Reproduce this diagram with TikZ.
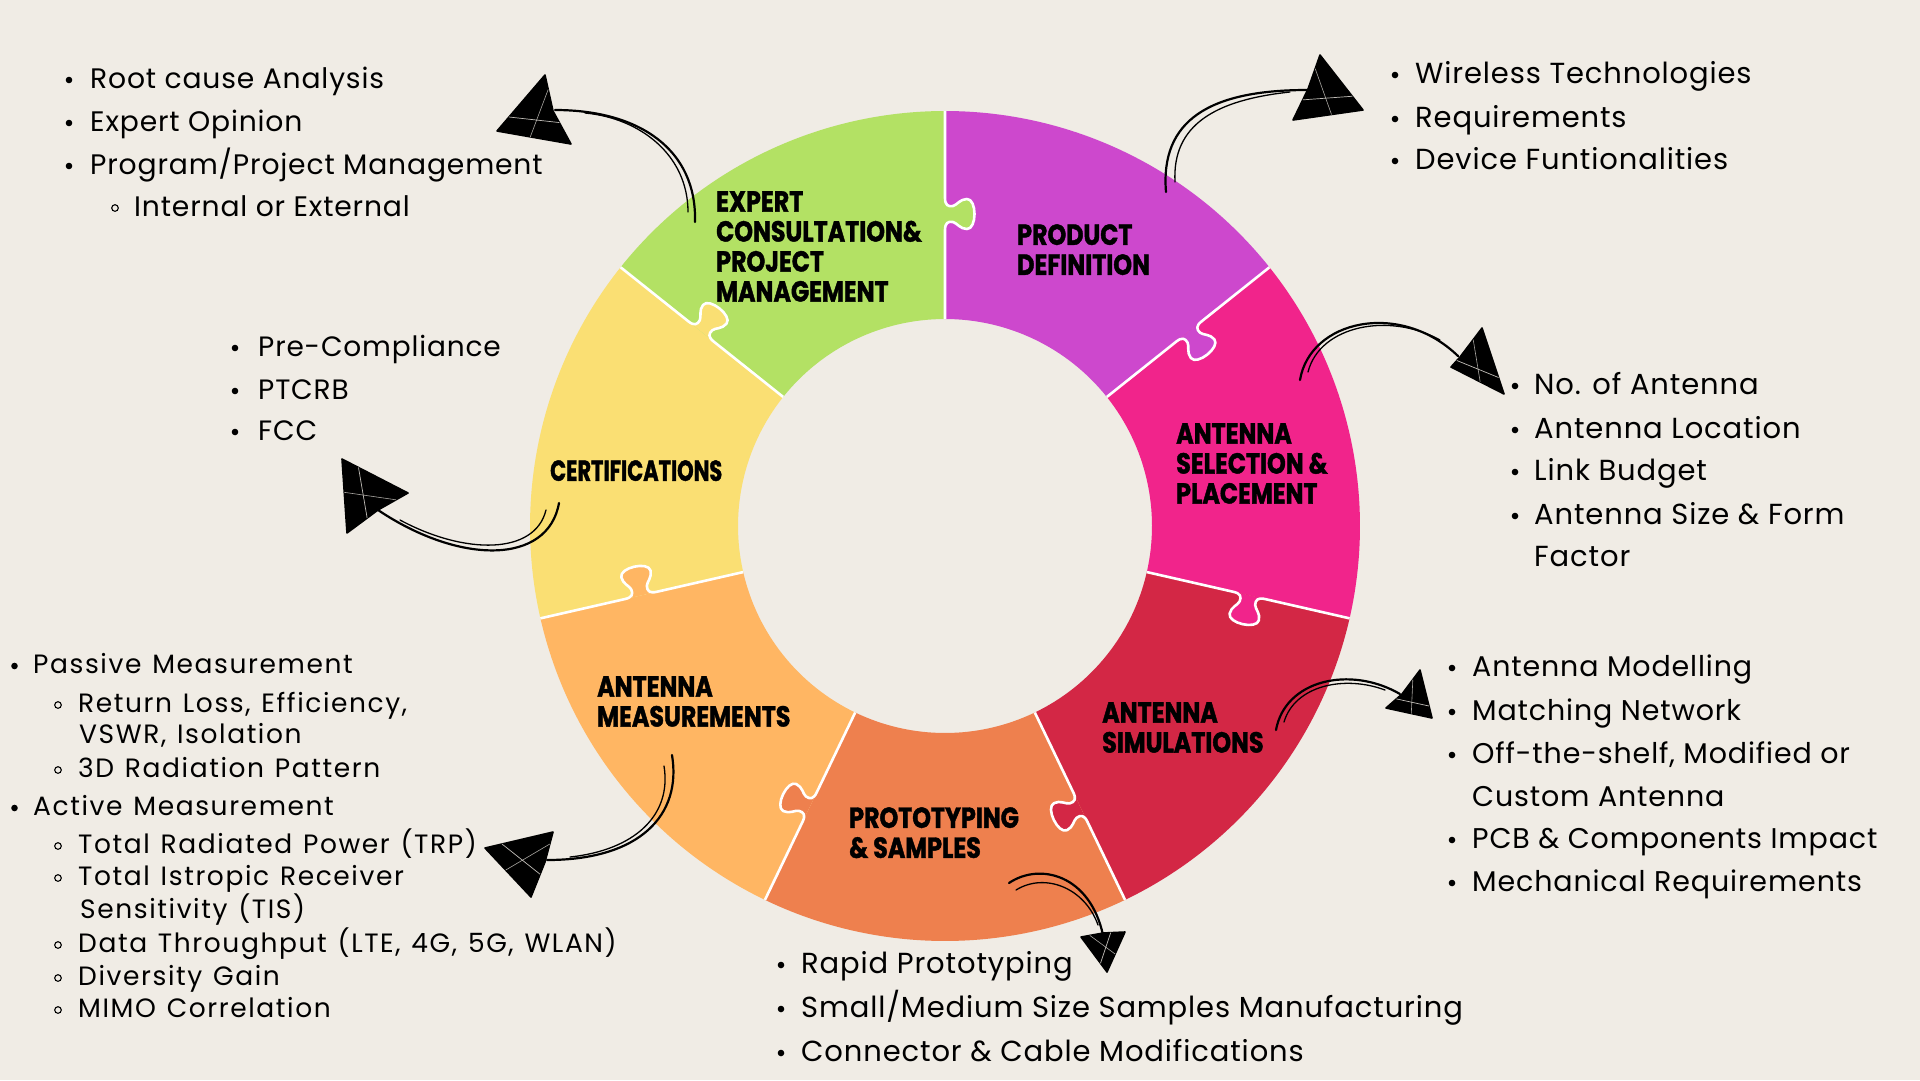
\documentclass[tikz,border=0pt]{standalone}
\usepackage{fontspec}
\usetikzlibrary{calc}
\newfontfamily\listfont{Poppins}[LetterSpace=3]
\newfontfamily\listfontw{Poppins}[LetterSpace=6, WordSpace=1.25]
\newfontfamily\labfont{Poppins}[FakeStretch=0.82, BoldFeatures={FakeBold=1.4}]
\definecolor{bgc}{HTML}{F0ECE5}
\definecolor{cPD}{HTML}{CD48CD}
\definecolor{cAS}{HTML}{F1248B}
\definecolor{cSIM}{HTML}{D32745}
\definecolor{cPRO}{HTML}{EE804E}
\definecolor{cMEA}{HTML}{FFB663}
\definecolor{cCER}{HTML}{FADF73}
\definecolor{cEXP}{HTML}{B3E164}
\tikzset{
  labtxt/.style={font=\labfont\bfseries\fontsize{29}{30}\selectfont, align=left, inner sep=0pt, text=black, anchor=north west},
  lt/.style={font=\listfont\fontsize{29}{29}\selectfont, inner sep=0pt, anchor=base west, text=black},
  ltA/.style={lt, font=\listfont\fontsize{28.2}{29}\selectfont},
  ltR/.style={lt, font=\listfont\fontsize{28.5}{29}\selectfont},
  ltC/.style={lt, font=\listfont\fontsize{28}{29}\selectfont},
  ls/.style={font=\listfontw\fontsize{26.5}{26}\selectfont, inner sep=0pt, anchor=base west, text=black},
  arrline/.style={line width=2.2pt, line cap=round, black},
  arrline2/.style={line width=1.3pt, line cap=round, black},
}
\newcommand\bul[2]{\fill[black] (#1,#2) circle (3.3);}
\newcommand\sbul[2]{\draw[black, line width=1.1pt] (#1,#2) circle (3.3);}
\newcommand\skhead[4]{%
  \fill[black] (#1) -- (#2) -- (#3) -- (#4) -- cycle;
  \draw[black, line width=1.6pt, line join=round] (#1) -- (#2) -- (#3) -- (#4) -- cycle;
  \draw[bgc, line width=0.7pt, opacity=0.8] ($(#1)!0.25!(#2)$) -- ($(#3)!0.35!(#4)$);
  \draw[bgc, line width=0.6pt, opacity=0.7] ($(#1)!0.45!(#4)$) -- ($(#2)!0.4!(#3)$);
}
\begin{document}
\begin{tikzpicture}[x=1pt,y=-1pt]
\fill[bgc] (0,0) rectangle (1920,1080);
\useasboundingbox (0,0) rectangle (1920,1080);

% ---- ring ----
\begin{scope}[shift={(945,526)}]
\foreach \c [count=\k from 0] in {cPD,cAS,cSIM,cPRO,cMEA,cCER,cEXP}{
  \pgfmathsetmacro\a{-90+\k*360/7}
  \pgfmathsetmacro\b{\a+360/7}
  \fill[\c] (\a:415) arc[start angle=\a, end angle=\b, radius=415] -- (\b:207) arc[start angle=\b, end angle=\a, radius=207] -- cycle;
}
\end{scope}
\foreach \c [count=\k from 0] in {cEXP,cPD,cAS,cSIM,cPRO,cMEA,cCER}{
  \pgfmathsetmacro\ra{90-\k*360/7}
  \begin{scope}[shift={(945,526)}, rotate=\ra]
    \fill[\c] (296,0) .. controls (303,0) and (305,3) .. (304,8) .. controls (303,12) and (297,15) .. (297,22) .. controls (297,32) and (327,32) .. (327,22) .. controls (327,15) and (321,12) .. (320,8) .. controls (319,3) and (321,0) .. (328,0) -- cycle;
    \draw[white, line width=2.6pt, line join=round] (207,0) -- (296,0) .. controls (303,0) and (305,3) .. (304,8) .. controls (303,12) and (297,15) .. (297,22) .. controls (297,32) and (327,32) .. (327,22) .. controls (327,15) and (321,12) .. (320,8) .. controls (319,3) and (321,0) .. (328,0) -- (415,0);
  \end{scope}
}

% ---- segment labels ----
\node[labtxt] (lEXP) at (716,191) {EXPERT\\CONSULTATION\&\\PROJECT\\MANAGEMENT};
\node[labtxt] (lPD) at (1017,224) {PRODUCT\\DEFINITION};
\node[labtxt] (lAS) at (1176,423) {ANTENNA\\SELECTION \&\\PLACEMENT};
\node[labtxt] (lCER) at (550,460) {\scalebox{0.88}[1]{CERTIFICATIONS}};
\node[labtxt] (lSIM) at (1102,702) {ANTENNA\\SIMULATIONS};
\node[labtxt] (lPRO) at (849,807) {PROTOTYPING\\\& SAMPLES};
\node[labtxt] (lMEA) at (597,676) {ANTENNA\\MEASUREMENTS};

% ---- lists ----
% top-left
\node[ltA] (tl1) at (90,88) {Root cause Analysis};
\node[ltA] (tl2) at (90,131) {Expert Opinion};
\node[ltA] (tl3) at (90,174) {Program/Project Management};
\node[ltA] (tl4) at (134,216) {Internal or External};
\bul{69}{80}\bul{69}{123}\bul{69}{166}\sbul{115}{208}
% top-right
\node[lt] (tr1) at (1415,83) {Wireless Technologies};
\node[lt] (tr2) at (1415,127) {Requirements};
\node[lt] (tr3) at (1415,169) {Device Funtionalities};
\bul{1395}{75}\bul{1395}{119}\bul{1395}{161}
% right-mid
\node[lt] (rm1) at (1534,394) {No. of Antenna};
\node[lt] (rm2) at (1534,438) {Antenna Location};
\node[lt] (rm3) at (1534,480) {Link Budget};
\node[lt] (rm4) at (1534,524) {Antenna Size \& Form};
\node[lt] (rm5) at (1534,566) {Factor};
\bul{1515}{386}\bul{1515}{430}\bul{1515}{472}\bul{1515}{516}
% right-lower
\node[ltR] (rl1) at (1472,676) {Antenna Modelling};
\node[ltR] (rl2) at (1472,720) {Matching Network};
\node[ltR] (rl3) at (1472,763) {Off-the-shelf, Modified or};
\node[ltR] (rl4) at (1472,806) {Custom Antenna};
\node[ltR] (rl5) at (1472,848) {PCB \& Components Impact};
\node[ltR] (rl6) at (1472,891) {Mechanical Requirements};
\bul{1452}{668}\bul{1452}{712}\bul{1452}{755}\bul{1452}{840}\bul{1452}{883}
% bottom
\node[lt] (bt1) at (801,973) {Rapid Prototyping};
\node[lt] (bt2) at (801,1017) {Small/Medium Size Samples Manufacturing};
\node[lt] (bt3) at (801,1061) {Connector \& Cable Modifications};
\bul{781}{965}\bul{781}{1009}\bul{781}{1053}
% certifications
\node[ltC] (ce1) at (258,356) {Pre-Compliance};
\node[ltC] (ce2) at (258,399) {PTCRB};
\node[ltC] (ce3) at (258,440) {FCC};
\bul{235}{348}\bul{235}{391}\bul{235}{432}
% left-lower
\node[ls] (ll1) at (33,673) {Passive Measurement};
\node[ls] (ll2) at (78,712) {Return Loss, Efficiency,};
\node[ls] (ll3) at (79,743) {VSWR, Isolation};
\node[ls] (ll4) at (78,777) {3D Radiation Pattern};
\node[ls] (ll5) at (33,815) {Active Measurement};
\node[ls] (ll6) at (78,853) {Total Radiated Power (TRP)};
\node[ls] (ll7) at (78,885) {Total Istropic Receiver};
\node[ls] (ll8) at (80,918) {Sensitivity (TIS)};
\node[ls] (ll9) at (78,952) {Data Throughput (LTE, 4G, 5G, WLAN)};
\node[ls] (ll10) at (78,985) {Diversity Gain};
\node[ls] (ll11) at (78,1017) {MIMO Correlation};
\bul{14.5}{666}\bul{14.5}{808}
\sbul{58}{705}\sbul{58}{770}\sbul{58}{846}\sbul{58}{878}\sbul{58}{945}\sbul{58}{978}\sbul{58}{1010}

% ---- arrows ----
% 1 expert
\coordinate (a1t) at (695,222); \coordinate (a1h) at (555,110);
\draw[arrline] (a1t) .. controls (697,150) and (640,110) .. (a1h);
\draw[arrline2] (688,212) .. controls (688,155) and (640,118) .. (585,113);
\skhead{497,131}{545,75}{553,111}{571,144}
% 2 product definition
\coordinate (a2t) at (1166,192); \coordinate (a2h) at (1307,90);
\draw[arrline] (a2t) .. controls (1160,120) and (1210,90) .. (a2h);
\draw[arrline2] (1175,182) .. controls (1172,125) and (1215,100) .. (1290,92);
\skhead{1363,110}{1320,55}{1308,89}{1293,120}
% 3 antenna selection
\coordinate (a3t) at (1300,380); \coordinate (a3h) at (1458,356);
\draw[arrline] (a3t) .. controls (1310,320) and (1400,300) .. (a3h);
\draw[arrline2] (1308,372) .. controls (1320,325) and (1390,312) .. (1440,340);
\skhead{1504,394}{1482,328}{1460,357}{1451,367}
% 4 simulations
\coordinate (a4t) at (1276,730); \coordinate (a4h) at (1400,694);
\draw[arrline] (a4t) .. controls (1285,680) and (1350,665) .. (a4h);
\draw[arrline2] (1284,722) .. controls (1295,685) and (1345,675) .. (1385,690);
\skhead{1432,718}{1420,670}{1402,694}{1386,708}
% 5 prototyping
\coordinate (a5t) at (1009,883); \coordinate (a5h) at (1103,935);
\draw[arrline] (a5t) .. controls (1040,862) and (1090,875) .. (a5h);
\draw[arrline2] (1016,890) .. controls (1045,872) and (1085,888) .. (1098,925);
\skhead{1107,972}{1081,937}{1103,933}{1125,932}
% 6 measurements
\coordinate (a6t) at (672,755); \coordinate (a6h) at (547,860);
\draw[arrline] (a6t) .. controls (682,815) and (640,860) .. (a6h);
\draw[arrline2] (664,766) .. controls (672,815) and (635,850) .. (570,857);
\skhead{485,848}{553,832}{545,862}{531,897}
% 7 certifications
\coordinate (a7t) at (559,503); \coordinate (a7h) at (378,510);
\draw[arrline] (a7t) .. controls (548,565) and (460,565) .. (a7h);
\draw[arrline2] (546,510) .. controls (535,555) and (465,555) .. (400,520);
\skhead{342,459}{408,493}{378,510}{347,533}
\end{tikzpicture}
\end{document}
